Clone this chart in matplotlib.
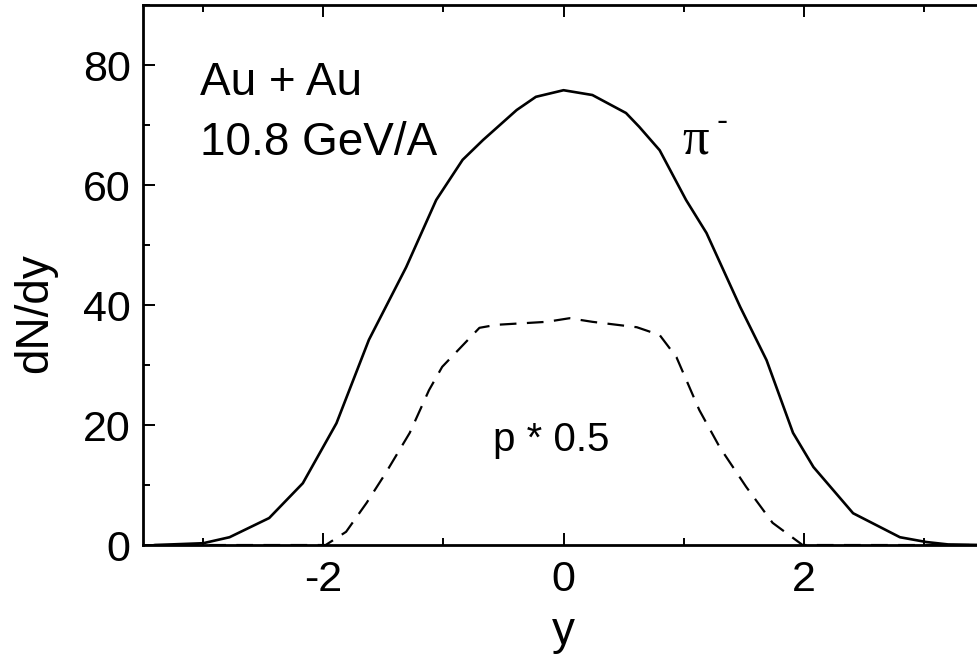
import matplotlib
matplotlib.use('Agg')
from matplotlib import pyplot as plt
from matplotlib.ticker import MultipleLocator

plt.rcParams['font.family'] = ['Liberation Sans', 'DejaVu Sans']

# pi- rapidity distribution (solid)
pi_y = [-3.4, -3.0, -2.78, -2.45, -2.17, -1.89, -1.62, -1.31, -1.06, -0.84,
        -0.67, -0.39, -0.23, 0.0, 0.24, 0.52, 0.63, 0.8, 1.02, 1.19, 1.47,
        1.69, 1.91, 2.08, 2.41, 2.8, 3.02, 3.2, 3.5]
pi_dndy = [0.0, 0.3, 1.3, 4.5, 10.3, 20.3, 34.2, 46.3, 57.5, 64.2,
           67.5, 72.5, 74.7, 75.8, 75.0, 72.0, 69.7, 65.8, 57.5, 52.0, 39.7,
           30.8, 18.7, 13.0, 5.3, 1.3, 0.5, 0.1, 0.0]

# protons scaled by 0.5 (dashed)
p_y = [-3.4, -1.98, -1.81, -1.64, -1.48, -1.28, -1.12, -1.01, -0.7, -0.56,
       -0.14, 0.05, 0.24, 0.61, 0.8, 0.94, 1.13, 1.3, 1.52, 1.74, 1.99, 3.5]
p_dndy = [0.0, 0.0, 2.2, 7.0, 12.0, 18.7, 25.8, 29.7, 36.2, 36.7,
          37.2, 37.8, 37.2, 36.3, 35.0, 31.3, 22.5, 16.3, 9.7, 3.7, 0.0, 0.0]

fig = plt.figure(figsize=(9.77, 6.6), dpi=100)
ax = fig.add_axes([0.1464, 0.1742, 0.8608, 0.8182])

ax.plot(pi_y, pi_dndy, color='black', lw=1.9)
ax.plot(p_y, p_dndy, color='black', lw=1.6, dashes=(7.5, 4.7))

ax.set_xlim(-3.5, 3.5)
ax.set_ylim(0, 90)
ax.xaxis.set_major_locator(MultipleLocator(2))
ax.xaxis.set_minor_locator(MultipleLocator(1))
ax.yaxis.set_major_locator(MultipleLocator(20))
ax.yaxis.set_minor_locator(MultipleLocator(10))
ax.tick_params(which='both', direction='in', top=True, right=False,
               width=1.4, labelsize=31)
ax.tick_params(axis='x', pad=11)
ax.tick_params(axis='y', pad=9)
ax.tick_params(which='major', length=8.6)
ax.tick_params(which='minor', length=5)
ax.set_xticks([-2, 0, 2])
ax.set_xticklabels(['-2', '0', '2'])
for s in ax.spines.values():
    s.set_linewidth(2)

ax.set_xlabel('y', fontsize=33, labelpad=7)
ax.set_ylabel('dN/dy', fontsize=33)
ax.yaxis.set_label_coords(-0.102, 0.43)

ax.text(-3.03, 75, 'Au + Au', fontsize=33)
ax.text(-3.03, 65, '10.8 GeV/A', fontsize=33)
ax.text(-0.59, 15.6, 'p * 0.5', fontsize=29)
ax.text(0.99, 65.3, 'π', fontsize=38, family='Liberation Serif')
ax.text(1.27, 69.0, '-', fontsize=24)

fig.savefig('out.png')
plt.close(fig)
